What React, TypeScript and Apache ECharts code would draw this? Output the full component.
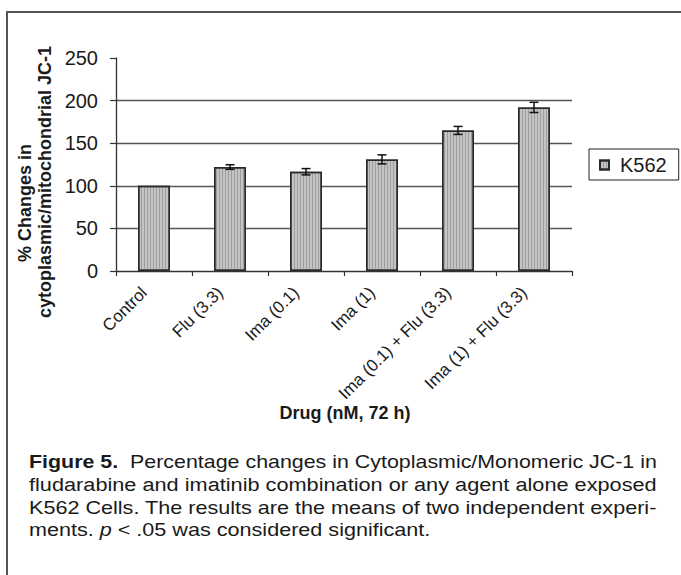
import React, { useEffect, useRef } from "react";
import * as echarts from "echarts";

const categories = [
  "Control",
  "Flu (3.3)",
  "Ima (0.1)",
  "Ima (1)",
  "Ima (0.1) + Flu (3.3)",
  "Ima (1) + Flu (3.3)",
];
const k562Values = [100, 122, 116.5, 131, 165, 192];
const k562Errors = [0, 2.7, 3.7, 5.3, 4.7, 6];
const yMin = 0;
const yMax = 250;
const yInterval = 50;
const seriesName = "K562";
const yTitleLines = ["% Changes in", "cytoplasmic/mitochondrial JC-1"];
const xTitle = "Drug (nM, 72 h)";
// each caption line: list of [style, text] segments; last line is not justified
const captionLines: [string, string][][] = [
  [["b", "Figure 5."], ["n", "  Percentage changes in Cytoplasmic/Monomeric JC-1 in"]],
  [["n", "fludarabine and imatinib combination or any agent alone exposed"]],
  [["n", "K562 Cells. The results are the means of two independent experi-"]],
  [["n", "ments. "], ["i", "p"], ["n", " < .05 was considered significant."]],
];

const FONT = "'Liberation Sans', Arial, Helvetica, sans-serif";
const CAP_SIZE = 18;

function segFont(kind: string) {
  if (kind === "b") return `bold ${CAP_SIZE}px ${FONT}`;
  if (kind === "i") return `italic ${CAP_SIZE}px ${FONT}`;
  return `${CAP_SIZE}px ${FONT}`;
}

function measureLine(line: [string, string][]) {
  const ctx = document.createElement("canvas").getContext("2d")!;
  let w = 0;
  for (const [k, t] of line) {
    ctx.font = segFont(k);
    w += ctx.measureText(t).width;
  }
  return w;
}

export default function App() {
  const ref = useRef<HTMLDivElement>(null);
  useEffect(() => {
    document.body.style.margin = "0";
    const chart = echarts.init(ref.current!, null, { renderer: "svg" });
    const errData = k562Values
      .map((v, i) => [i, v - k562Errors[i], v + k562Errors[i]])
      .filter((d, i) => k562Errors[i] > 0);

    const capLeft = 29;
    const capRight = 657;
    const capTop = 462;
    const capLineH = 22.7;
    const widths = captionLines.map(measureLine);
    const justScales = widths.slice(0, 3).map((w) => (capRight - capLeft) / w);
    const avgScale = justScales.reduce((a, b) => a + b, 0) / justScales.length;
    const captionGraphics = captionLines.map((line, li) => {
      const scale = li < 3 ? justScales[li] : avgScale;
      return {
        type: "text",
        x: capLeft,
        y: capTop + li * capLineH,
        scaleX: scale,
        style: {
          text: line.map(([k, t]) => `{${k}|${t}}`).join(""),
          fill: "#1a1a1a",
          textAlign: "left",
          textVerticalAlign: "middle",
          rich: {
            b: { fontWeight: "bold", fontSize: CAP_SIZE, fontFamily: FONT, fill: "#1a1a1a" },
            i: { fontStyle: "italic", fontSize: CAP_SIZE, fontFamily: FONT, fill: "#1a1a1a" },
            n: { fontSize: CAP_SIZE, fontFamily: FONT, fill: "#1a1a1a" },
          },
        },
      };
    });

    const option: any = {
      animation: false,
      backgroundColor: "#ffffff",
      textStyle: { fontFamily: FONT, color: "#1a1a1a" },
      grid: { left: 116, right: 109, top: 58, bottom: 304, containLabel: false },
      legend: {
        data: [seriesName],
        left: 589,
        top: 149,
        orient: "vertical",
        borderColor: "#222",
        borderWidth: 1,
        padding: [6, 12, 5, 10],
        itemWidth: 9,
        itemHeight: 9,
        icon: "rect",
        textStyle: { fontSize: 20, color: "#1a1a1a", fontFamily: FONT, padding: [0, 0, 0, 6] },
      },
      xAxis: {
        type: "category",
        data: categories,
        boundaryGap: true,
        axisLine: { lineStyle: { color: "#333", width: 1.3 } },
        axisTick: { show: true, length: 5, lineStyle: { color: "#333", width: 1.2 } },
        axisLabel: {
          rotate: 45,
          fontSize: 17,
          color: "#1a1a1a",
          margin: 9,
          interval: 0,
          padding: [0, 14, 0, 0],
          fontFamily: FONT,
        },
        splitLine: { show: false },
      },
      yAxis: {
        type: "value",
        min: yMin,
        max: yMax,
        interval: yInterval,
        axisLine: { show: true, lineStyle: { color: "#333", width: 1.3 } },
        axisTick: { show: true, length: 6, lineStyle: { color: "#333", width: 1.2 } },
        axisLabel: { fontSize: 20, color: "#1a1a1a", margin: 18, fontFamily: FONT },
        splitLine: {
          show: true,
          showMinLine: false,
          showMaxLine: false,
          lineStyle: { color: "#555", width: 1.4 },
        },
      },
      series: [
        {
          name: seriesName,
          type: "bar",
          data: k562Values,
          barWidth: 32,
          itemStyle: {
            color: "#c4c4c4",
            borderColor: "#2a2a2a",
            borderWidth: 1.5,
            decal: {
              symbol: "rect",
              symbolSize: 1,
              dashArrayX: [1, 2],
              dashArrayY: [4, 0],
              color: "rgba(110,110,110,0.45)",
            },
          },
        },
        {
          name: "err",
          type: "custom",
          data: errData,
          encode: { x: 0, y: [1, 2] },
          z: 5,
          renderItem: (params: any, api: any) => {
            const x = api.value(0);
            const lo = api.coord([x, api.value(1)]);
            const hi = api.coord([x, api.value(2)]);
            const hw = 4.5;
            const style = { stroke: "#111", lineWidth: 1.5 };
            return {
              type: "group",
              children: [
                { type: "line", shape: { x1: lo[0], y1: lo[1], x2: hi[0], y2: hi[1] }, style },
                { type: "line", shape: { x1: lo[0] - hw, y1: lo[1], x2: lo[0] + hw, y2: lo[1] }, style },
                { type: "line", shape: { x1: hi[0] - hw, y1: hi[1], x2: hi[0] + hw, y2: hi[1] }, style },
              ],
            };
          },
        },
      ],
      graphic: [
        {
          type: "polyline",
          shape: { points: [[7, 580], [7, 12], [690, 12]] },
          style: { stroke: "#555", lineWidth: 2, fill: null },
          silent: true,
        },
        {
          type: "text",
          x: 25,
          y: 203,
          rotation: Math.PI / 2,
          style: {
            text: yTitleLines[0],
            font: `bold 18px ${FONT}`,
            fill: "#1a1a1a",
            textAlign: "center",
            textVerticalAlign: "middle",
          },
        },
        {
          type: "text",
          x: 45,
          y: 182,
          rotation: Math.PI / 2,
          style: {
            text: yTitleLines[1],
            font: `bold 18px ${FONT}`,
            fill: "#1a1a1a",
            textAlign: "center",
            textVerticalAlign: "middle",
          },
        },
        {
          type: "text",
          x: 345,
          y: 413,
          style: {
            text: xTitle,
            font: `bold 18px ${FONT}`,
            fill: "#1a1a1a",
            textAlign: "center",
            textVerticalAlign: "middle",
          },
        },
        ...captionGraphics,
      ],
    };
    chart.setOption(option);
    return () => chart.dispose();
  }, []);
  return <div ref={ref} style={{ width: 681, height: 575 }} />;
}
